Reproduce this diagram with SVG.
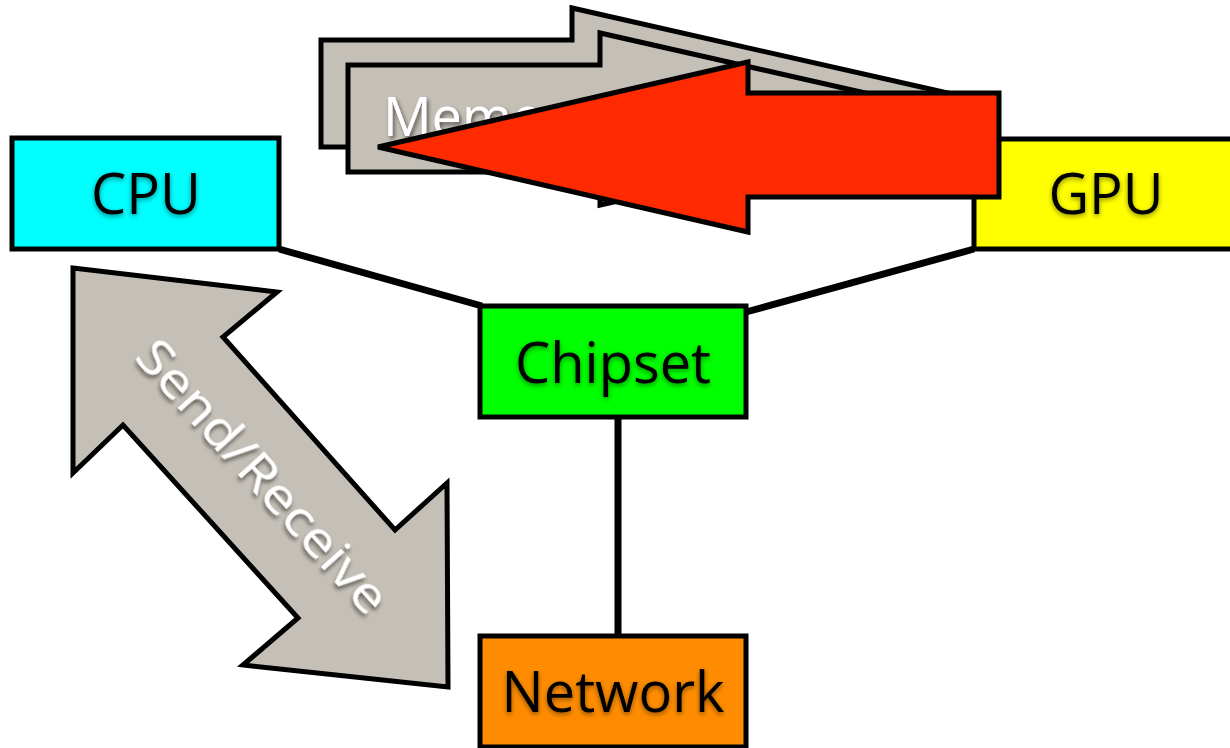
<svg xmlns="http://www.w3.org/2000/svg" width="1230" height="748" viewBox="0 0 1230 748">
  <defs>
    <filter id="glow" x="-20%" y="-30%" width="140%" height="160%">
      <feGaussianBlur in="SourceAlpha" stdDeviation="2.5"/>
      <feOffset dx="0" dy="2" result="b"/>
      <feComponentTransfer><feFuncA type="linear" slope="0.45"/></feComponentTransfer>
      <feMerge><feMergeNode/><feMergeNode in="SourceGraphic"/></feMerge>
    </filter>
    <filter id="dropw" x="-20%" y="-30%" width="140%" height="160%">
      <feGaussianBlur in="SourceAlpha" stdDeviation="2"/>
      <feOffset dx="2" dy="3" result="b"/>
      <feComponentTransfer><feFuncA type="linear" slope="0.55"/></feComponentTransfer>
      <feMerge><feMergeNode/><feMergeNode in="SourceGraphic"/></feMerge>
    </filter>
  </defs>
  <style>
    .box { stroke: #000; stroke-width: 5; }
    .lbl { font-family: "Open Sans", "Noto Sans", sans-serif; font-size: 56px; fill: #000; text-anchor: middle; filter: url(#glow); }
    .big { fill: #C5C0B7; stroke: #000; stroke-width: 5; stroke-linejoin: miter; }
    .wlbl { font-family: "Open Sans", "Noto Sans", sans-serif; fill: #fff; filter: url(#dropw); }
    .wire { stroke: #000; stroke-width: 7; fill: none; }
  </style>
  <rect width="1230" height="748" fill="#fff"/>

  <!-- links between the parts -->
  <g id="connectors">
    <line class="wire" x1="279" y1="249" x2="482" y2="306"/>
    <line class="wire" x1="974" y1="249" x2="746" y2="312"/>
    <line class="wire" x1="618" y1="417" x2="618" y2="638"/>
  </g>

  <g id="cpu">
    <rect class="box" x="12" y="138" width="267" height="111" fill="#00FFFF"/>
    <text class="lbl" x="146" y="214">CPU</text>
  </g>

  <g id="gpu">
    <rect class="box" x="974" y="139" width="262" height="110" fill="#FFFF00"/>
    <text class="lbl" x="1106" y="214">GPU</text>
  </g>

  <g id="chipset">
    <rect class="box" x="480" y="306" width="266" height="111" fill="#00FF00"/>
    <text class="lbl" x="613" y="383">Chipset</text>
  </g>

  <g id="network">
    <rect class="box" x="480" y="636" width="266" height="111" fill="#FF8C00"/>
    <text class="lbl" x="613" y="712">Network</text>
  </g>

  <!-- memory transfer arrows, stacked -->
  <g id="memory">
    <polygon class="big" points="321,40 572,40 572,8 952,94 572,179 572,147 321,147"/>
    <polygon class="big" points="348,65 600,65 600,33 980,119 600,205 600,172 348,172"/>
    <text class="wlbl" x="383" y="136" font-size="54">Memory</text>
  </g>

  <!-- send/receive double arrow -->
  <g id="send-receive">
    <polygon class="big" stroke-width="4" points="73,268 277,292 223,337 395,530 447,483 448,687 243,665 298,618 123,425 73,473"/>
    <text class="wlbl" font-size="50" text-anchor="middle" textLength="350" lengthAdjust="spacingAndGlyphs" transform="translate(250,488) rotate(48)">Send/Receive</text>
  </g>

  <!-- red transfer arrow from GPU -->
  <g id="gpu-transfer">
    <polygon fill="#FF2A00" stroke="#000" stroke-width="5" points="999,93 999,197 748,197 748,232 378,147 748,62 748,93"/>
  </g>
</svg>
